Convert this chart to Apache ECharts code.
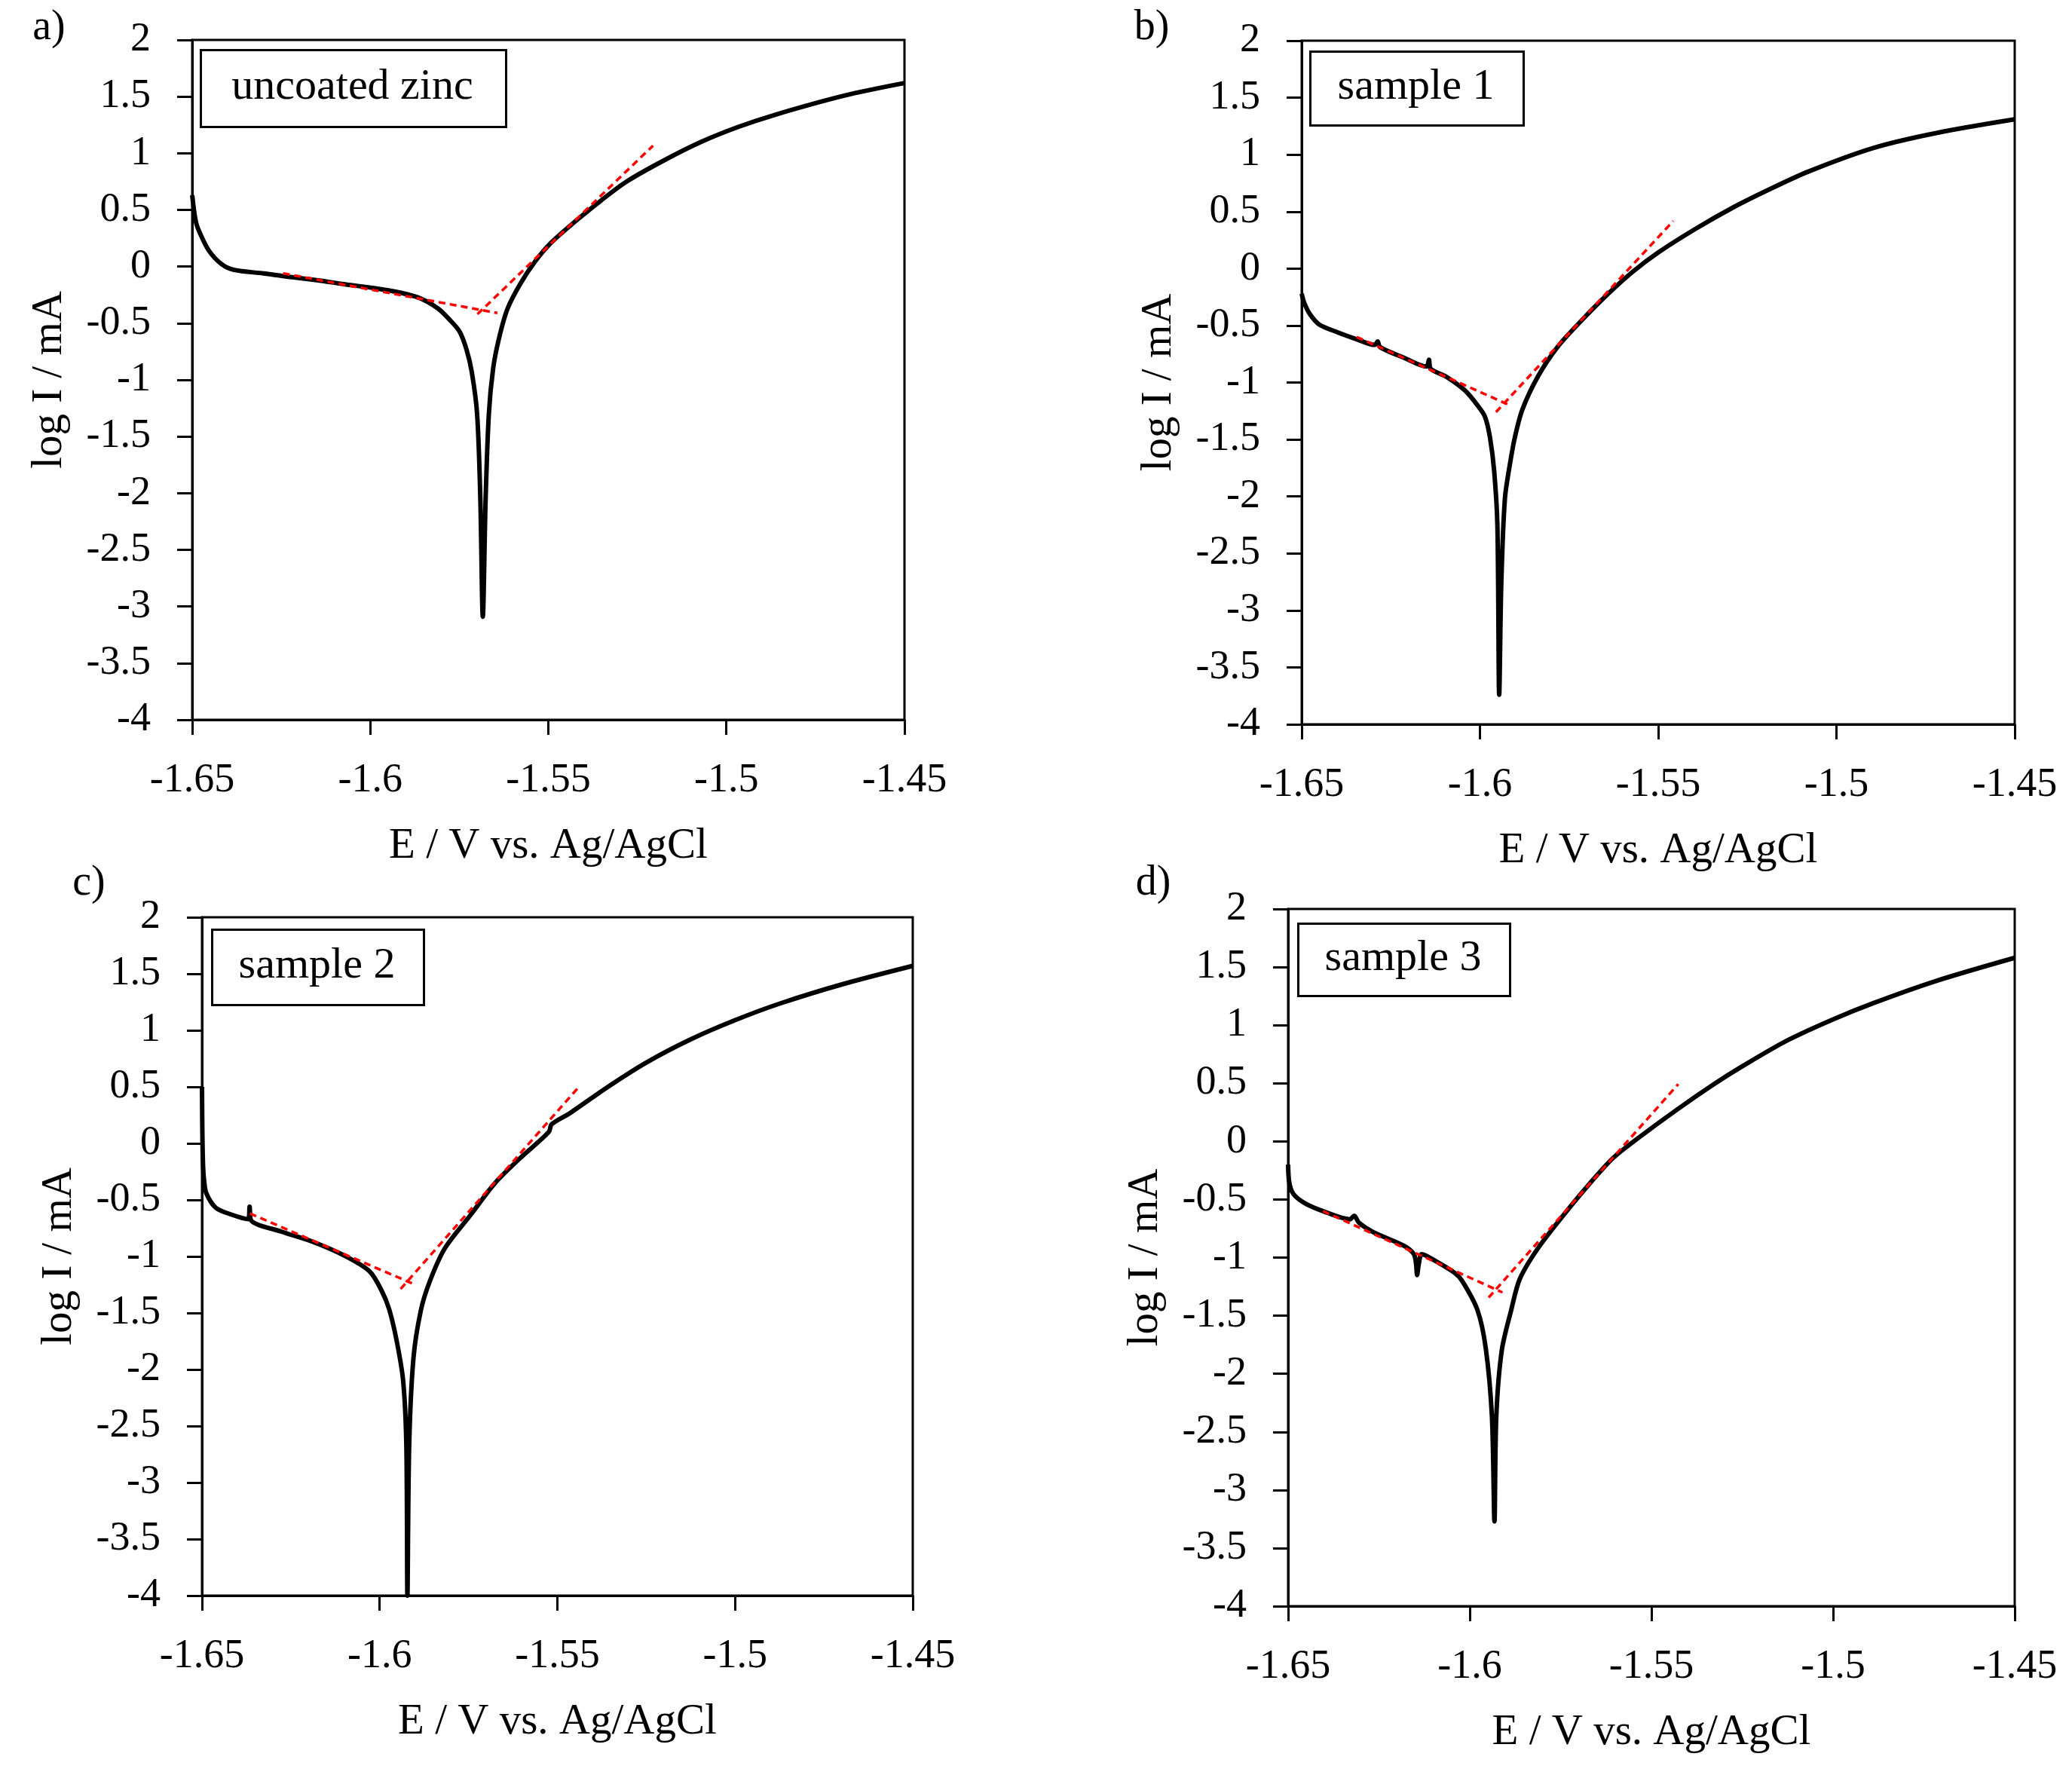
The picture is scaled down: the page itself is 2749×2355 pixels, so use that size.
<!DOCTYPE html>
<html>
<head>
<meta charset="utf-8">
<script src="https://cdn.jsdelivr.net/npm/echarts@6/dist/echarts.min.js"></script>
<style>
  html, body { margin: 0; padding: 0; background: #fff; }
  #chart { width: 2749px; height: 2355px; }
</style>
</head>
<body>
<div id="chart"></div>
<script>
// polarisation curves, [E (V vs Ag/AgCl), log I (mA)]
var curveA = [
  [-1.6500, 0.63], [-1.6490, 0.40], [-1.6479, 0.30], [-1.6453, 0.14], [-1.6417, 0.02],
  [-1.6382, -0.03], [-1.6300, -0.06], [-1.6241, -0.085], [-1.6150, -0.12], [-1.6074, -0.155],
  [-1.5990, -0.19], [-1.5916, -0.23], [-1.5860, -0.28], [-1.5810, -0.37], [-1.5780, -0.46],
  [-1.5750, -0.57], [-1.5730, -0.73], [-1.5715, -0.93], [-1.5700, -1.30], [-1.5691, -2.04],
  [-1.5684, -3.09], [-1.5676, -2.04], [-1.5667, -1.30], [-1.5655, -0.90], [-1.5639, -0.64],
  [-1.5615, -0.375], [-1.5579, -0.153], [-1.5537, 0.046], [-1.5495, 0.202], [-1.5424, 0.40],
  [-1.5354, 0.578], [-1.5283, 0.745], [-1.5177, 0.934], [-1.5071, 1.10], [-1.4966, 1.233],
  [-1.4860, 1.343], [-1.4667, 1.51], [-1.4500, 1.62]
];
var curveB = [
  [-1.6500, -0.22], [-1.6493, -0.30], [-1.6477, -0.40], [-1.6451, -0.49], [-1.6399, -0.56],
  [-1.6346, -0.62], [-1.6295, -0.67], [-1.6287, -0.64], [-1.6280, -0.69], [-1.6215, -0.78],
  [-1.6150, -0.86], [-1.6143, -0.80], [-1.6138, -0.88], [-1.6094, -0.95], [-1.6042, -1.07],
  [-1.6007, -1.20], [-1.5986, -1.30], [-1.5972, -1.48], [-1.5960, -1.78], [-1.5951, -2.26],
  [-1.5946, -3.74], [-1.5940, -2.75], [-1.5930, -2.02], [-1.5915, -1.70], [-1.5902, -1.48],
  [-1.5881, -1.237], [-1.5838, -0.95], [-1.5782, -0.686], [-1.5711, -0.443], [-1.5641, -0.223],
  [-1.5570, -0.024], [-1.5500, 0.141], [-1.5394, 0.351], [-1.5289, 0.538], [-1.5197, 0.682],
  [-1.5080, 0.85], [-1.4895, 1.06], [-1.4720, 1.19], [-1.4500, 1.31]
];
var curveC = [
  [-1.6500, 0.50], [-1.6499, 0.10], [-1.6497, -0.20], [-1.6494, -0.33], [-1.6488, -0.44],
  [-1.6461, -0.57], [-1.6417, -0.63], [-1.6370, -0.67], [-1.6366, -0.56], [-1.6362, -0.68],
  [-1.6277, -0.78], [-1.6189, -0.87], [-1.6101, -0.99], [-1.6029, -1.13], [-1.5995, -1.30],
  [-1.5973, -1.47], [-1.5952, -1.75], [-1.5934, -2.10], [-1.5925, -2.67], [-1.5922, -4.00],
  [-1.5917, -2.67], [-1.5905, -1.90], [-1.5884, -1.475], [-1.5859, -1.22], [-1.5817, -0.93],
  [-1.5746, -0.64], [-1.5676, -0.353], [-1.5605, -0.131], [-1.5524, 0.102], [-1.5516, 0.17],
  [-1.5464, 0.269], [-1.5357, 0.502], [-1.5251, 0.713], [-1.5125, 0.92], [-1.5000, 1.09],
  [-1.4871, 1.24], [-1.4695, 1.41], [-1.4500, 1.57]
];
var curveD = [
  [-1.6500, -0.20], [-1.6497, -0.35], [-1.6486, -0.45], [-1.6455, -0.53], [-1.6404, -0.60],
  [-1.6330, -0.67], [-1.6318, -0.64], [-1.6305, -0.70], [-1.6266, -0.78], [-1.6180, -0.90],
  [-1.6154, -0.97], [-1.6148, -1.05], [-1.6145, -1.15], [-1.6140, -1.05], [-1.6132, -0.97],
  [-1.6094, -1.03], [-1.6042, -1.13], [-1.6021, -1.20], [-1.5979, -1.45], [-1.5956, -1.78],
  [-1.5939, -2.37], [-1.5932, -3.27], [-1.5927, -2.37], [-1.5912, -1.80], [-1.5886, -1.452],
  [-1.5862, -1.182], [-1.5813, -0.923], [-1.5744, -0.642], [-1.5675, -0.382], [-1.5606, -0.145],
  [-1.5537, 0.027], [-1.5433, 0.266], [-1.5329, 0.49], [-1.5253, 0.64], [-1.5125, 0.87],
  [-1.5000, 1.05], [-1.4889, 1.19], [-1.4717, 1.38], [-1.4500, 1.58]
];

// tafel extrapolation lines (red dashed)
var tafelA = [[[-1.6245, -0.06], [-1.5643, -0.41]], [[-1.5699, -0.42], [-1.5206, 1.067]]];
var tafelB = [[[-1.6346, -0.60], [-1.5916, -1.20]], [[-1.5955, -1.26], [-1.5458, 0.417]]];
var tafelC = [[[-1.6365, -0.62], [-1.5898, -1.253]], [[-1.5941, -1.287], [-1.5442, 0.491]]];
var tafelD = [[[-1.6404, -0.60], [-1.5910, -1.30]], [[-1.5948, -1.344], [-1.5426, 0.493]]];

var sampleNames = ['uncoated zinc', 'sample 1', 'sample 2', 'sample 3'];
var panelLetters = ['a)', 'b)', 'c)', 'd)'];
var xRange = [-1.65, -1.45, 0.05];
var yRange = [-4, 2, 0.5];

(function() {
  var chart = echarts.init(document.getElementById('chart'));
  var FONT = '"Liberation Serif", "Times New Roman", serif';

  var curves = [curveA, curveB, curveC, curveD];
  var tafels = [tafelA, tafelB, tafelC, tafelD];
  // plot rectangles
  var grids = [
    { left: 255, top: 53, width: 945, height: 902 },
    { left: 1727, top: 54, width: 946, height: 907 },
    { left: 268, top: 1217, width: 943, height: 900 },
    { left: 1709, top: 1206, width: 964, height: 925 }
  ];
  var boxes = [
    { x: 265, y: 65, w: 405, h: 102 },
    { x: 1737, y: 67, w: 283, h: 98 },
    { x: 280, y: 1232, w: 281, h: 100 },
    { x: 1721, y: 1224, w: 281, h: 96 }
  ];
  var letterPos = [[65, 37], [1528, 37], [118, 1172], [1530, 1172]];

  var option = {
    backgroundColor: '#fff',
    animation: false,
    grid: [],
    xAxis: [],
    yAxis: [],
    series: [],
    graphic: []
  };

  grids.forEach(function(g, i) {
    option.grid.push({
      left: g.left, top: g.top, width: g.width, height: g.height,
      show: true, borderColor: '#000', borderWidth: 3, backgroundColor: 'transparent'
    });
    option.xAxis.push({
      gridIndex: i, type: 'value',
      min: xRange[0], max: xRange[1], interval: xRange[2],
      name: 'E / V vs. Ag/AgCl', nameLocation: 'middle', nameGap: 140,
      nameTextStyle: { fontFamily: FONT, fontSize: 57, color: '#000' },
      axisLine: { onZero: false, lineStyle: { color: '#000', width: 3 } },
      axisTick: { inside: false, length: 20, lineStyle: { color: '#000', width: 3 } },
      axisLabel: { margin: 54, fontFamily: FONT, fontSize: 54, color: '#000' },
      splitLine: { show: false }
    });
    option.yAxis.push({
      gridIndex: i, type: 'value',
      min: yRange[0], max: yRange[1], interval: yRange[2],
      name: 'log I / mA', nameLocation: 'middle', nameGap: 160,
      nameTextStyle: { fontFamily: FONT, fontSize: 57, color: '#000' },
      axisLine: { onZero: false, lineStyle: { color: '#000', width: 3 } },
      axisTick: { inside: false, length: 20, lineStyle: { color: '#000', width: 3 } },
      axisLabel: { margin: 55, fontFamily: FONT, fontSize: 54, color: '#000' },
      splitLine: { show: false }
    });
    option.series.push({
      type: 'line', xAxisIndex: i, yAxisIndex: i,
      data: curves[i], showSymbol: false, symbol: 'none',
      smooth: 0.3,
      lineStyle: { color: '#000', width: 6, join: 'round' },
      z: 2
    });
    tafels[i].forEach(function(seg) {
      option.series.push({
        type: 'line', xAxisIndex: i, yAxisIndex: i,
        data: seg, showSymbol: false, symbol: 'none',
        lineStyle: { color: '#ff0000', width: 3.5, type: [9, 6] },
        z: 3
      });
    });

    var b = boxes[i];
    option.graphic.push({
      type: 'rect', left: b.x, top: b.y, z: 10,
      shape: { width: b.w, height: b.h },
      style: { fill: '#fff', stroke: '#000', lineWidth: 3 }
    });
    option.graphic.push({
      type: 'text', z: 11,
      x: b.x + b.w / 2, y: b.y + b.h / 2,
      style: {
        text: sampleNames[i], font: '58px ' + FONT, fill: '#000',
        textAlign: 'center', textVerticalAlign: 'middle'
      }
    });
    option.graphic.push({
      type: 'text', z: 11,
      x: letterPos[i][0], y: letterPos[i][1],
      style: {
        text: panelLetters[i], font: '56px ' + FONT, fill: '#000',
        textAlign: 'center', textVerticalAlign: 'middle'
      }
    });
  });

  chart.setOption(option);
})();
</script>
</body>
</html>
